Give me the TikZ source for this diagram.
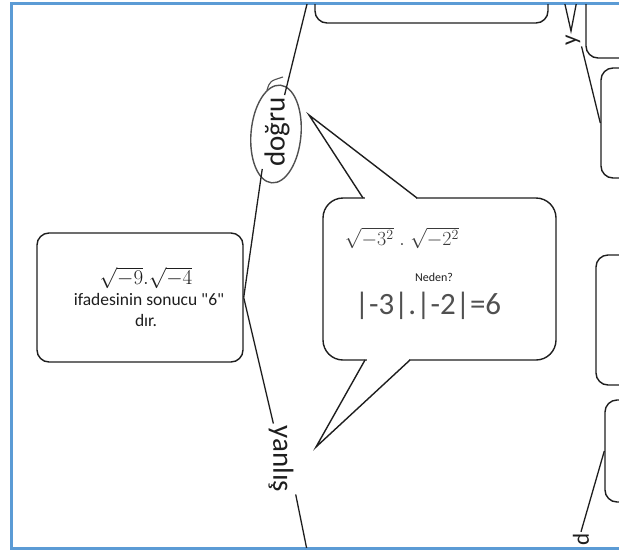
\RequirePackage{fix-cm}
\documentclass[tikz,border=0pt]{standalone}
\usepackage{fontspec}
\setmainfont{Carlito}[Ligatures=TeXOff]
\usetikzlibrary{shapes.geometric}
\definecolor{frameblue}{HTML}{5B9BD5}
\definecolor{ink}{HTML}{1E1E1E}
\definecolor{pencil}{HTML}{505050}
\definecolor{pencildark}{HTML}{3A3A3A}
\begin{document}
\begin{tikzpicture}[x=1pt,y=-1pt,
  box/.style={draw=ink, line width=1.4pt, rounded corners=12pt, inner sep=0pt},
  conn/.style={draw=ink, line width=1.3pt},
  lbl/.style={font=\fontsize{29}{29}\selectfont, inner sep=1pt, text=ink},
  small lbl/.style={font=\fontsize{23}{23}\selectfont, inner sep=1pt, text=ink},
  boxtext/.style={align=center, font=\fontsize{17.5}{21}\selectfont, text=ink},
  hand/.style={text=pencil, inner sep=0pt},
]
\useasboundingbox (0,0) rectangle (619,550);
\begin{scope}
\clip (0,0) rectangle (619,550);
% frame
\draw[frameblue, line width=3pt] (630,3) -- (11,3) -- (11,548.5) -- (630,548.5);
\clip (12.5,4.5) rectangle (619,547);

% boxes
\node[box, minimum width=206, minimum height=129] (leftbox) at (140,297.5) {};
\node[boxtext] (lefttext) at (146,297) {{\fontsize{21}{21}\selectfont$\sqrt{-9}.\sqrt{-4}$\hspace{6pt}}\\\hspace{6pt}ifadesinin sonucu "6"\\dır.};
\node[box, minimum width=233, minimum height=63] (topbox) at (431.5,-8.5) {};
\node[box, minimum width=114, minimum height=98] (boxA) at (643,9) {};
\node[box, minimum width=99, minimum height=110] (boxB) at (650.5,123) {};
\node[box, minimum width=104, minimum height=130] (boxC) at (648,320) {};
\node[box, minimum width=95, minimum height=102] (boxD) at (652.5,451) {};

% speech bubble
\node[box, rounded corners=20pt, minimum width=233, minimum height=162] (bubble) at (439.5,279) {};
\coordinate (tiptop) at (309,115);
\coordinate (tipbot) at (316,447);
\fill[white] (364.5,196) rectangle (415.5,200);
\fill[white] (366.5,358) rectangle (408.5,362);
\draw[conn, line width=1.4pt, line join=miter] (363,198) -- (tiptop) -- (417,198);
\draw[conn, line width=1.4pt, line join=miter] (365,360) -- (tipbot) -- (410,360);
\node[hand, text=pencildark, font=\fontsize{20}{20}\selectfont] (hw1) at (402,238) {$\sqrt{-3^2}\;.\;\sqrt{-2^2}$};
\node[font=\fontsize{12}{12}\selectfont, text=ink] (neden) at (434,277) {Neden?};
\node[hand, font=\fontsize{31}{31}\selectfont] (hw2) at (428,306) {|-3|.|-2|=6};

% doğru branch
\node[lbl, rotate=90, inner sep=2pt] (dogru) at (277,132) {doğru};
\draw[pencil, line width=1.4pt, rotate around={-5:(276,134)}] (276,134) ellipse [x radius=25, y radius=49];
\draw[pencil, line width=1.1pt] (267,90) .. controls (270,81) .. (283,77);
\coordinate (rootL) at (308,0);
\draw[conn] (rootL) -- (dogru.base east);
\draw[conn] (dogru.north west) -- (leftbox.east);

% yanlış branch
\node[lbl, rotate=-90, inner sep=2pt] (yanlis) at (281,459) {yanlış};
\coordinate (rootB) at (307,550);
\draw[conn] (leftbox.east) -- (yanlis.base west);
\draw[conn] (yanlis.north east) -- (rootB);

% right side fragments
\node[small lbl, rotate=90] (ylbl) at (573,40) {y};
\coordinate (vl) at (564,0);
\coordinate (vt) at (571,31);
\coordinate (vr) at (577,0);
\draw[conn, line join=miter] (vl) -- (vt) -- (vr);
\draw[conn] (ylbl.south west) -- (boxB.west);
\node[small lbl, rotate=90] (dlbl) at (581,539) {d};
\draw[conn] (dlbl.east) -- (boxD.west);
\end{scope}
\end{tikzpicture}
\end{document}
